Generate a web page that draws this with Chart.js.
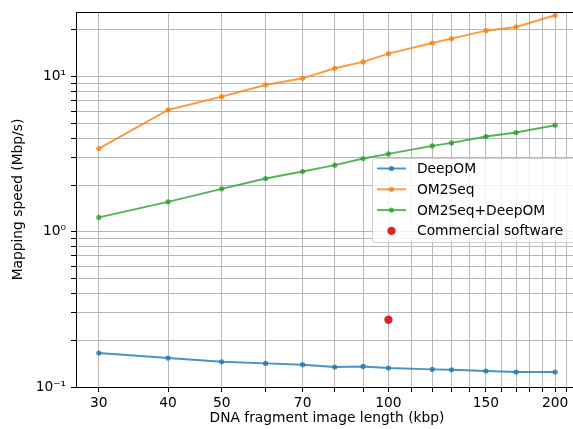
<!DOCTYPE html>
<html>
<head>
<meta charset="utf-8">
<script src="https://cdn.jsdelivr.net/npm/chart.js@4"></script>
<style>
  html, body { margin: 0; padding: 0; background: #fff; overflow: hidden; }
  #wrap { width: 573px; height: 429px; overflow: hidden; }
</style>
</head>
<body>
<div id="wrap"><canvas id="speedChart" width="586" height="429"></canvas></div>
<script>
// fragment length (kbp)
var lengths = [30, 40, 50, 60, 70, 80, 90, 100, 120, 130, 150, 170, 200];
// mapping speed (Mbp/s)
var deepOM = [0.1655, 0.1537, 0.1455, 0.1419, 0.1392, 0.1345, 0.1357, 0.1325, 0.1298, 0.1292, 0.1268, 0.1249, 0.1249];
var om2seq = [3.44, 6.10, 7.43, 8.84, 9.76, 11.33, 12.44, 14.06, 16.48, 17.57, 19.78, 20.9, 24.86];
var combined = [1.238, 1.561, 1.892, 2.207, 2.448, 2.689, 2.969, 3.179, 3.579, 3.742, 4.115, 4.365, 4.864];
var commercialX = [100];
var commercialY = [0.2713];

var xTickLabels = [30, 40, 50, 70, 100, 150, 200];
var xGridValues = [30, 40, 50, 60, 70, 80, 90, 100, 110, 120, 130, 140, 150, 160, 170, 180, 190, 200, 210];
var yGridValues = [0.1, 0.2, 0.3, 0.4, 0.5, 0.6, 0.7, 0.8, 0.9, 1, 2, 3, 4, 5, 6, 7, 8, 9, 10, 20];
var yTickLabels = { '0.1': '10\u207B\u00B9', '1': '10\u2070', '10': '10\u00B9' };

function pts(xs, ys) {
  return xs.map(function(x, i) { return { x: x, y: ys[i] }; });
}

var FONT = 'DejaVu Sans';
var FSIZE = 13.8;
var GRID = '#b8b8b8';

// legend box drawn inside the plot, like the original
var boxLegend = {
  id: 'boxLegend',
  afterDraw: function(chart) {
    var ctx = chart.ctx;
    var area = chart.chartArea;
    ctx.save();
    // top / right spines
    ctx.strokeStyle = '#000';
    ctx.lineWidth = 1;
    ctx.beginPath();
    ctx.moveTo(area.left, area.top + 0.5);
    ctx.lineTo(area.right, area.top + 0.5);
    ctx.moveTo(area.right - 0.5, area.top);
    ctx.lineTo(area.right - 0.5, area.bottom);
    ctx.stroke();

    var x0 = 372, y0 = 158, w = 230, h = 84;
    ctx.beginPath();
    ctx.roundRect(x0 + 0.5, y0 + 0.5, w, h, 3);
    ctx.fillStyle = 'rgba(255,255,255,0.8)';
    ctx.fill();
    ctx.strokeStyle = '#d0d0d0';
    ctx.stroke();

    ctx.font = FSIZE + 'px "' + FONT + '"';
    ctx.textBaseline = 'middle';
    chart.data.datasets.forEach(function(ds, i) {
      var y = 168.5 + i * 20.8;
      if (ds.showLine !== false) {
        ctx.strokeStyle = ds.borderColor;
        ctx.lineWidth = ds.borderWidth;
        ctx.beginPath();
        ctx.moveTo(377, y);
        ctx.lineTo(406, y);
        ctx.stroke();
      }
      ctx.fillStyle = ds.pointBackgroundColor;
      ctx.beginPath();
      ctx.arc(391.5, y, ds.pointRadius, 0, Math.PI * 2);
      ctx.fill();
      ctx.fillStyle = '#000';
      ctx.fillText(ds.label, 417, y + 1);
    });
    ctx.restore();
  }
};

var canvasBg = {
  id: 'canvasBg',
  beforeDraw: function(chart) {
    var ctx = chart.ctx;
    ctx.save();
    ctx.fillStyle = '#fff';
    ctx.fillRect(0, 0, chart.width, chart.height);
    ctx.restore();
  }
};

function lineSet(label, ys, color) {
  return {
    label: label,
    data: pts(lengths, ys),
    borderColor: color,
    backgroundColor: color,
    pointBackgroundColor: color,
    pointBorderWidth: 0,
    pointRadius: 2.6,
    borderWidth: 1.9,
    tension: 0,
    fill: false
  };
}

new Chart(document.getElementById('speedChart'), {
  type: 'line',
  data: {
    datasets: [
      lineSet('DeepOM', deepOM, 'rgba(31,119,180,0.8)'),
      lineSet('OM2Seq', om2seq, 'rgba(255,127,14,0.8)'),
      lineSet('OM2Seq+DeepOM', combined, 'rgba(44,160,44,0.8)'),
      {
        label: 'Commercial software',
        data: pts(commercialX, commercialY),
        showLine: false,
        borderColor: '#d62728',
        backgroundColor: '#d62728',
        pointBackgroundColor: '#d62728',
        pointBorderWidth: 0,
        pointRadius: 4.2,
        borderWidth: 0
      }
    ]
  },
  plugins: [canvasBg, boxLegend],
  options: {
    responsive: false,
    animation: false,
    layout: { padding: { top: 12, right: 8, left: 0, bottom: 0 } },
    plugins: { legend: { display: false }, tooltip: { enabled: false } },
    scales: {
      x: {
        type: 'logarithmic',
        min: 30 / Math.pow(200 / 30, 0.05),
        max: 200 * Math.pow(200 / 30, 0.05),
        afterBuildTicks: function(axis) {
          axis.ticks = xGridValues.map(function(v) { return { value: v }; });
        },
        afterFit: function(scale) {
          scale.height = 42;
          scale.paddingLeft = 0;
          scale.paddingRight = 0;
        },
        ticks: {
          autoSkip: false,
          maxRotation: 0,
          padding: 3,
          color: '#000',
          font: { family: FONT, size: FSIZE },
          callback: function(v) { return xTickLabels.indexOf(v) >= 0 ? String(v) : ''; }
        },
        grid: { color: GRID, lineWidth: 1, tickLength: 5, tickColor: '#000' },
        border: { color: '#000', width: 1 },
        title: {
          display: true,
          text: 'DNA fragment image length (kbp)',
          color: '#000',
          font: { family: FONT, size: FSIZE },
          padding: { top: 0, bottom: 2 }
        }
      },
      y: {
        type: 'logarithmic',
        min: 0.1,
        max: 26.1,
        afterBuildTicks: function(axis) {
          axis.ticks = yGridValues.map(function(v) { return { value: v }; });
        },
        afterFit: function(scale) {
          scale.width = 76;
          scale.paddingTop = 0;
          scale.paddingBottom = 0;
        },
        ticks: {
          autoSkip: false,
          padding: 5,
          color: '#000',
          font: { family: FONT, size: FSIZE },
          callback: function(v) {
            var key = String(Math.round(v * 1000) / 1000);
            return yTickLabels[key] || '';
          }
        },
        grid: { color: GRID, lineWidth: 1, tickLength: 5, tickColor: '#000' },
        border: { color: '#000', width: 1 },
        title: {
          display: true,
          text: 'Mapping speed (Mbp/s)',
          color: '#000',
          font: { family: FONT, size: FSIZE },
          padding: { top: 10, bottom: 0 }
        }
      }
    }
  }
});
</script>
</body>
</html>
